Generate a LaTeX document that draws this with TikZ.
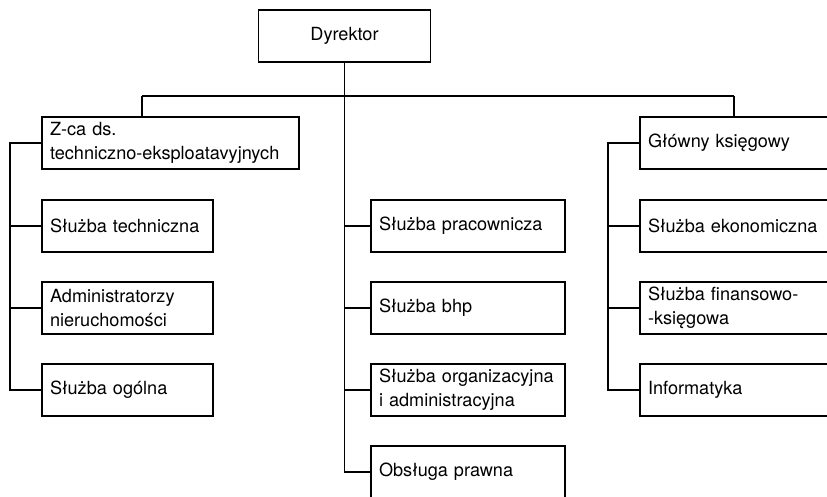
\documentclass[tikz,border=0pt]{standalone}
\usepackage{fontspec}
\setmainfont{TeX Gyre Heros}
\usepackage{tikz}
\usetikzlibrary{shapes,positioning}
\hyphenpenalty=10000
\tikzstyle{block} = [rectangle, draw, text width=116.25pt, align=left,
    inner xsep=6pt, minimum height=39pt, font=\fontsize{13.6}{18}\selectfont]
\tikzstyle{wide} = [block, text width=133.5pt]
\tikzstyle{head} = [rectangle, draw, text centered, minimum width=129pt,
    minimum height=39pt, font=\fontsize{13.6}{18}\selectfont]
\tikzstyle{line} = [draw]

\begin{document}
\begin{tikzpicture}[x=0.75pt, y=-0.75pt, node distance=61.5pt, line width=0.8pt]
\useasboundingbox (0,0) rectangle (827,496);
\clip (0,0) rectangle (827,496);
\fill [white] (0,0) rectangle (827,496);

\node [head] (dyr) at (344.5,36) {Dyrektor};

% left column
\node [block, text width=180.75pt] (zca) at (170.5,143) {Z-ca ds.\\techniczno-eksploatavyjnych};
\node [block] (tech) at (127.5,226) {Służba techniczna};
\node [block, below of=tech] (admin) {Administratorzy\\nieruchomości};
\node [block, below of=admin] (ogolna) {Służba ogólna};

% middle column
\node [wide] (prac) at (468,226) {Służba pracownicza};
\node [wide, below of=prac] (bhp) {Służba bhp};
\node [wide, below of=bhp] (org) {Służba organizacyjna\\i administracyjna};
\node [wide, below of=org] (prawna) {Obsługa prawna};

% right column
\node [wide] (glowny) at (737,143) {Główny księgowy};
\node [wide, below of=glowny, node distance=62.25pt] (ekon) {Służba ekonomiczna};
\node [wide, below of=ekon] (finans) {Służba finansowo-\\-księgowa};
\node [wide, below of=finans] (info) {Informatyka};

\coordinate (busL) at (142,96);
\coordinate (busR) at (734,96);
\coordinate (spL) at (10,0);
\coordinate (spR) at (608,0);

\path [line] (busL) -- (busR);
\path [line] (busL) -- (busL |- zca.north);
\path [line] (busR) -- (busR |- glowny.north);

\path [line] (dyr) |- (prawna);
\foreach \n in {prac,bhp,org}
    \path [line] (dyr |- \n) -- (\n);

\path [line] (zca.west) -| (spL |- ogolna) -- (ogolna);
\foreach \n in {tech,admin}
    \path [line] (spL |- \n) -- (\n);

\path [line] (glowny.west) -| (spR |- info) -- (info);
\foreach \n in {ekon,finans}
    \path [line] (spR |- \n) -- (\n);
\end{tikzpicture}
\end{document}
